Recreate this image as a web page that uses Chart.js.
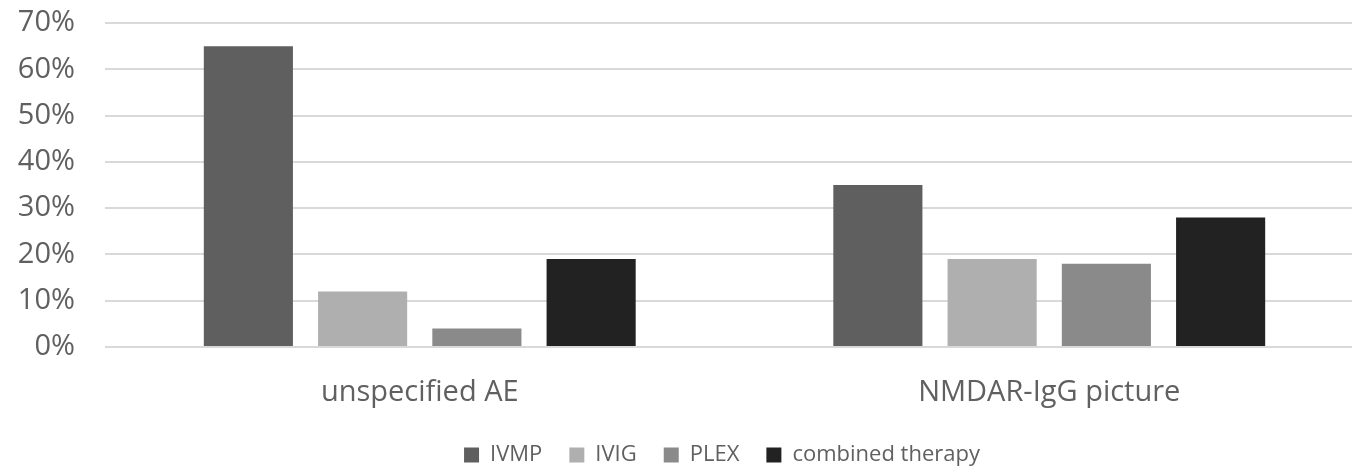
<!DOCTYPE html>
<html>
<head>
<meta charset="utf-8">
<script src="https://cdn.jsdelivr.net/npm/chart.js@4/dist/chart.umd.min.js"></script>
<style>
  html, body { margin: 0; padding: 0; background: #fff; overflow: hidden; }
  #wrap { position: relative; width: 1352px; height: 467px; overflow: hidden; }
</style>
</head>
<body>
<div id="wrap"><canvas id="c" width="1364" height="476"></canvas></div>
<script>
// Share of patients (%) per first-line treatment, by clinical group
const categories = ['unspecified AE', 'NMDAR-IgG picture'];
const seriesNames = ['IVMP', 'IVIG', 'PLEX', 'combined therapy'];
const ivmp = [65, 35];
const ivig = [12, 19];
const plex = [4, 18];
const combined = [19, 28];
const yTicks = [0, 10, 20, 30, 40, 50, 60, 70];

const colors = ['#5f5f5f', '#afafaf', '#8a8a8a', '#222222'];
const values = [ivmp, ivig, plex, combined];

const textColor = '#606060';
const fontFamily = "'Open Sans', 'Noto Sans', sans-serif";

// nudges the legend row to the right of the canvas centre
const legendOffset = {
  id: 'legendOffset',
  afterLayout(chart) {
    const lg = chart.legend;
    if (lg) { lg.left += 40; lg.right += 40; }
  }
};

new Chart(document.getElementById('c'), {
  type: 'bar',
  data: {
    labels: categories,
    datasets: seriesNames.map((name, i) => ({
      label: name,
      data: values[i],
      backgroundColor: colors[i],
      borderWidth: 0,
      categoryPercentage: 0.726,
      barPercentage: 0.78
    }))
  },
  plugins: [legendOffset],
  options: {
    responsive: false,
    animation: false,
    devicePixelRatio: 1,
    layout: { padding: { top: 23, right: 0, bottom: 0, left: 0 } },
    plugins: {
      tooltip: { enabled: false },
      legend: {
        position: 'bottom',
        labels: {
          color: textColor,
          font: { family: fontFamily, size: 22 },
          boxWidth: 15,
          boxHeight: 15,
          padding: 27
        }
      }
    },
    scales: {
      x: {
        grid: { display: false },
        border: { display: false },
        ticks: {
          color: textColor,
          font: { family: fontFamily, size: 29 },
          padding: 20
        },
        afterFit: (s) => { s.height = 70; }
      },
      y: {
        min: 0,
        max: 70,
        afterBuildTicks: (s) => { s.ticks = yTicks.map(v => ({ value: v })); },
        grid: { color: '#d9d9d9', lineWidth: 2, drawTicks: false },
        border: { display: false },
        ticks: {
          color: textColor,
          font: { family: fontFamily, size: 29 },
          padding: 30,
          callback: (v) => v + '%'
        },
        afterFit: (s) => { s.width = 105; s.paddingTop = 0; s.paddingBottom = 0; }
      }
    }
  }
});
</script>
</body>
</html>
